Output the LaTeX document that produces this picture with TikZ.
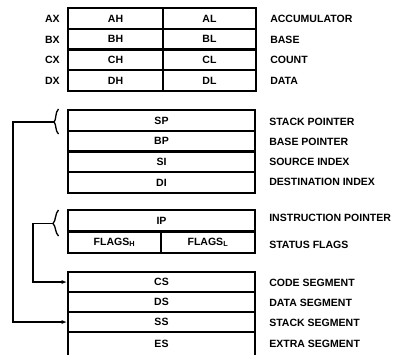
\documentclass[tikz,border=0pt]{standalone}
\usepackage{fontspec}
\setmainfont{Liberation Sans}
\usetikzlibrary{arrows.meta}
\begin{document}
\begin{tikzpicture}[x=0.75pt,y=-0.75pt,
  every node/.style={font=\fontsize{7.9}{8.5}\selectfont\bfseries, inner sep=0pt},
  cell/.style={draw, line width=1.5pt, anchor=center},
  frame/.style={draw, line width=2pt},
  lbl/.style={anchor=west},
  rlbl/.style={anchor=east},
  link/.style={line width=1pt},
  bracestyle/.style={line width=1pt},
  tip/.style={-{Latex[length=4pt,width=3pt]}}]
\clip (0,0) rectangle (398,354);
\fill[white] (0,0) rectangle (398,354);

% Group 1: general registers
\node[cell, minimum width=71.25pt, minimum height=15.56pt] (ah) at (115.5,18.4) {AH};
\node[cell, minimum width=69.75pt, minimum height=15.56pt] (al) at (209.5,18.4) {AL};
\node[cell, minimum width=71.25pt, minimum height=15.56pt] (bh) at (115.5,39.1) {BH};
\node[cell, minimum width=69.75pt, minimum height=15.56pt] (bl) at (209.5,39.1) {BL};
\node[cell, minimum width=71.25pt, minimum height=15.56pt] (ch) at (115.5,59.9) {CH};
\node[cell, minimum width=69.75pt, minimum height=15.56pt] (cl) at (209.5,59.9) {CL};
\node[cell, minimum width=71.25pt, minimum height=15.56pt] (dh) at (115.5,80.6) {DH};
\node[cell, minimum width=69.75pt, minimum height=15.56pt] (dl) at (209.5,80.6) {DL};
\draw[frame] (68,8) rectangle (256,91);
\node[rlbl] (ax) at (60,19) {AX};
\node[rlbl] (bx) at (60,40) {BX};
\node[rlbl] (cx) at (60,60) {CX};
\node[rlbl] (dx) at (60,81) {DX};
\node[lbl] (acc) at (270,19) {ACCUMULATOR};
\node[lbl] (base) at (270,40) {BASE};
\node[lbl] (count) at (270,60) {COUNT};
\node[lbl] (data) at (270,81) {DATA};

% Group 2: pointer and index registers
\node[cell, minimum width=140.25pt, minimum height=15.56pt] (sp) at (161.5,120.4) {SP};
\node[cell, minimum width=140.25pt, minimum height=15.56pt] (bp) at (161.5,141.1) {BP};
\node[cell, minimum width=140.25pt, minimum height=15.56pt] (si) at (161.5,161.9) {SI};
\node[cell, minimum width=140.25pt, minimum height=15.56pt] (di) at (161.5,182.6) {DI};
\draw[frame] (68,110) rectangle (255,193);
\node[lbl] (spl) at (269,122) {STACK POINTER};
\node[lbl] (bpl) at (269,142) {BASE POINTER};
\node[lbl] (sil) at (269,162) {SOURCE INDEX};
\node[lbl] (dil) at (269,182) {DESTINATION INDEX};

% Group 3: IP and flags
\node[cell, minimum width=140.25pt, minimum height=16.1pt] (ip) at (161.5,220.75) {IP};
\node[cell, minimum width=69.75pt, minimum height=16.1pt] (fh) at (114.5,242.25) {FLAGS$_{\mathbf{H}}$};
\node[cell, minimum width=70.5pt, minimum height=16.1pt] (fl) at (208,242.25) {FLAGS$_{\mathbf{L}}$};
\draw[frame] (68,210) rectangle (255,253);
\node[lbl] (ipl) at (269,218) {INSTRUCTION POINTER};
\node[lbl] (fll) at (269,245) {STATUS FLAGS};

% Group 4: segment registers
\node[cell, minimum width=140.25pt, minimum height=15pt] (cs) at (161.5,282) {CS};
\node[cell, minimum width=140.25pt, minimum height=15pt] (ds) at (161.5,302) {DS};
\node[cell, minimum width=140.25pt, minimum height=15pt] (ss) at (161.5,322) {SS};
\node[cell, minimum width=140.25pt, minimum height=18pt] (es) at (161.5,344) {ES};
\draw[frame] (68,272) -- (255,272) -- (255,360) (68,272) -- (68,360);
\node[lbl] (csl) at (269,283) {CODE SEGMENT};
\node[lbl] (dsl) at (269,303) {DATA SEGMENT};
\node[lbl] (ssl) at (269,323) {STACK SEGMENT};
\node[lbl] (esl) at (269,344) {EXTRA SEGMENT};

% Braces
\coordinate (b1) at (54,122);
\coordinate (b2) at (53,223.5);
\draw[bracestyle] (58.5,109) .. controls (55,112) and (56.5,120) .. (b1)
                  .. controls (56.5,124) and (55,131) .. (58.5,134);
\draw[bracestyle] (58.5,210) .. controls (55,213) and (56,221) .. (b2)
                  .. controls (56,226) and (55,233) .. (58.5,236);

% Connectors
\draw[link, tip] (b1) -- ++(-41,0) |- (ss.west);
\draw[link, tip] (b2) -- ++(-20,0) |- (cs.west);
\end{tikzpicture}
\end{document}
